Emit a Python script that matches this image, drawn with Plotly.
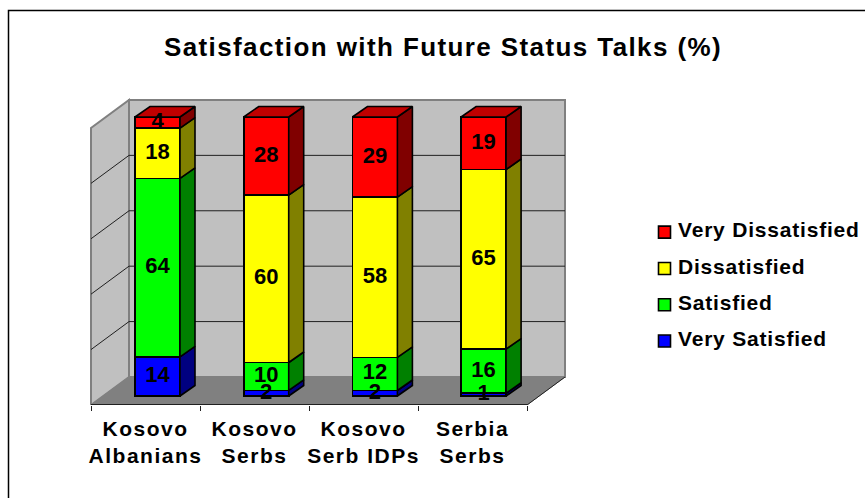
import plotly.graph_objects as go

categories = ["Kosovo<br>Albanians", "Kosovo<br>Serbs", "Kosovo<br>Serb IDPs", "Serbia<br>Serbs"]
very_satisfied = [14, 2, 2, 1]
satisfied = [64, 10, 12, 16]
dissatisfied = [18, 60, 58, 65]
very_dissatisfied = [4, 28, 29, 19]
series_names = ["Very Satisfied", "Satisfied", "Dissatisfied", "Very Dissatisfied"]
series_values = [very_satisfied, satisfied, dissatisfied, very_dissatisfied]
front_colors = ["#0000FF", "#00FF00", "#FFFF00", "#FF0000"]
side_colors = ["#000080", "#008000", "#808000", "#800000"]
top_colors = ["#0000C0", "#00C000", "#C0C000", "#C00000"]
grid_values = [20, 40, 60, 80, 100]

W, H = 865, 498
PX_PER_CAT = 108.7
PX_PER_PCT = 2.79
X0_PX, Y0_PX = 157.5, 396.0
to_x = lambda px: (px - X0_PX) / PX_PER_CAT
to_y = lambda px: (Y0_PX - px) / PX_PER_PCT

BAR_W = 45 / PX_PER_CAT
BAR_DX, BAR_DY = 15 / PX_PER_CAT, 10.5 / PX_PER_PCT
WALL_DX, WALL_DY = 38 / PX_PER_CAT, 28 / PX_PER_PCT
FL, FR = to_x(91), to_x(527)
FB = to_y(405)
WALL_SCALE = 0.993
CAT_W = (FR - FL) / len(categories)

xs = list(range(len(categories)))
totals = [sum(v[i] for v in series_values) for i in xs]
fig = go.Figure()

for s, (name, vals, col) in enumerate(zip(series_names, series_values, front_colors)):
    fig.add_trace(go.Bar(x=xs, y=vals, name=name, width=BAR_W, legendgroup=name,
                         legendrank=100 * (len(series_names) - s),
                         marker=dict(color=col, line=dict(color="black", width=1.6))))

label_x, label_y, label_t = [], [], []
base = [0.0] * len(xs)
for s, vals in enumerate(series_values):
    sx, sy = [], []
    for i in xs:
        h = vals[i] * 100 / totals[i]
        r = i + BAR_W / 2
        sx += [r, r + BAR_DX, r + BAR_DX, r, r, None]
        sy += [base[i], base[i] + BAR_DY, base[i] + h + BAR_DY, base[i] + h, base[i], None]
        label_x.append(i)
        label_y.append(base[i] + h / 2)
        label_t.append(str(vals[i]))
        base[i] += h
    fig.add_trace(go.Scatter(x=sx, y=sy, mode="lines", fill="toself", fillcolor=side_colors[s],
                             line=dict(color="black", width=1.6), showlegend=False, hoverinfo="skip"))

tx, ty = [], []
for i in xs:
    l, r = i - BAR_W / 2, i + BAR_W / 2
    tx += [l, r, r + BAR_DX, l + BAR_DX, l, None]
    ty += [base[i], base[i], base[i] + BAR_DY, base[i] + BAR_DY, base[i], None]
fig.add_trace(go.Scatter(x=tx, y=ty, mode="lines", fill="toself", fillcolor=top_colors[3],
                         line=dict(color="black", width=1.6), showlegend=False, hoverinfo="skip"))

fig.add_trace(go.Scatter(x=label_x, y=label_y, text=label_t, mode="text", showlegend=False, hoverinfo="skip",
                         textfont=dict(family="Liberation Sans", size=22, color="black", weight="bold")))

fig.add_trace(go.Scatter(x=[FL, FR], y=[FB, FB], mode="lines", line=dict(color="#202020", width=2),
                         showlegend=False, hoverinfo="skip"))

shapes = []
def poly(pts, fill, line=None, width=1.0):
    path = "M " + " L ".join(f"{x},{y}" for x, y in pts) + " Z"
    shapes.append(dict(type="path", path=path, xref="x", yref="y", layer="below", fillcolor=fill,
                       line=dict(color=line or fill, width=width)))

BT = FB + WALL_DY
wall_h = 100 * WALL_SCALE
BL, BR = FL + WALL_DX, FR + WALL_DX
poly([(BL, BT), (BR, BT), (BR, BT + wall_h), (BL, BT + wall_h)], "#C0C0C0", "#808080", 2)
poly([(FL, FB), (BL, BT), (BL, BT + wall_h), (FL, FB + wall_h)], "#C0C0C0", "#808080", 2)
poly([(FL, FB), (FR, FB), (BR, BT), (BL, BT)], "#808080", "#808080", 1)
for g in grid_values[:-1]:
    gy = g * WALL_SCALE
    shapes.append(dict(type="line", xref="x", yref="y", layer="below", x0=BL, x1=BR, y0=BT + gy, y1=BT + gy,
                       line=dict(color="#202020", width=1)))
    shapes.append(dict(type="line", xref="x", yref="y", layer="below", x0=FL, x1=BL, y0=FB + gy, y1=BT + gy,
                       line=dict(color="#202020", width=1)))
shapes.append(dict(type="line", xref="x", yref="y", layer="below", x0=FR, x1=BR, y0=FB, y1=BT,
                   line=dict(color="#202020", width=1)))
# chart-area frame: only the left and top edges fall inside the picture
shapes.append(dict(type="path", xref="paper", yref="paper", layer="below",
                   path=f"M {8.5 / W},0 L {8.5 / W},{1 - 10.5 / H} L 1,{1 - 10.5 / H}",
                   line=dict(color="black", width=1.5)))

FONT = "Liberation Sans"
fig.update_layout(
    width=W, height=H, margin=dict(l=0, r=0, t=0, b=0), paper_bgcolor="white", plot_bgcolor="rgba(0,0,0,0)",
    barmode="stack", barnorm="percent", shapes=shapes,
    title=dict(text="<b>Satisfaction with Future Status Talks (%)</b>", x=443 / W, xanchor="center",
               y=1 - 47 / H, yanchor="middle", font=dict(family=FONT, size=26, color="black")),
    xaxis=dict(domain=[80 / W, 580 / W], range=[to_x(80), to_x(580)], showgrid=False, zeroline=False,
               showline=False, ticks="", tickmode="array",
               tickvals=[FL + CAT_W * (i + 0.5) for i in xs], ticktext=categories, ticklabelstandoff=9,
               tickfont=dict(family=FONT, size=21, color="black", weight="bold"),
               minor=dict(ticks="outside", ticklen=5, tickwidth=1, tickcolor="#202020", showgrid=False,
                          tickvals=[FL + CAT_W * i for i in range(len(categories) + 1)])),
    yaxis=dict(domain=[(H - 405) / H, (H - 90) / H], range=[to_y(405), to_y(90)], visible=False),
    legend=dict(x=638 / W, y=1 - 209 / H, xanchor="left", yanchor="top",
                traceorder="grouped", tracegroupgap=6, itemwidth=30,
                font=dict(family=FONT, size=21, color="black", weight="bold"), bgcolor="rgba(0,0,0,0)"),
    showlegend=True,
)
css = (".gtitle{letter-spacing:1.4px}"
       ".xtick text{letter-spacing:1.5px}"
       ".legendtext{letter-spacing:.8px}"
       ".legend .scrollbox{clip-path:none!important}"
       ".legendsymbols{transform:translate(6.5px,3px)}")
post = ("document.body.style.margin='0';"
        "var st=document.createElement('style');st.textContent=%r;document.head.appendChild(st);" % css)
fig.write_html("out.html", post_script=post, config={"displayModeBar": False})
